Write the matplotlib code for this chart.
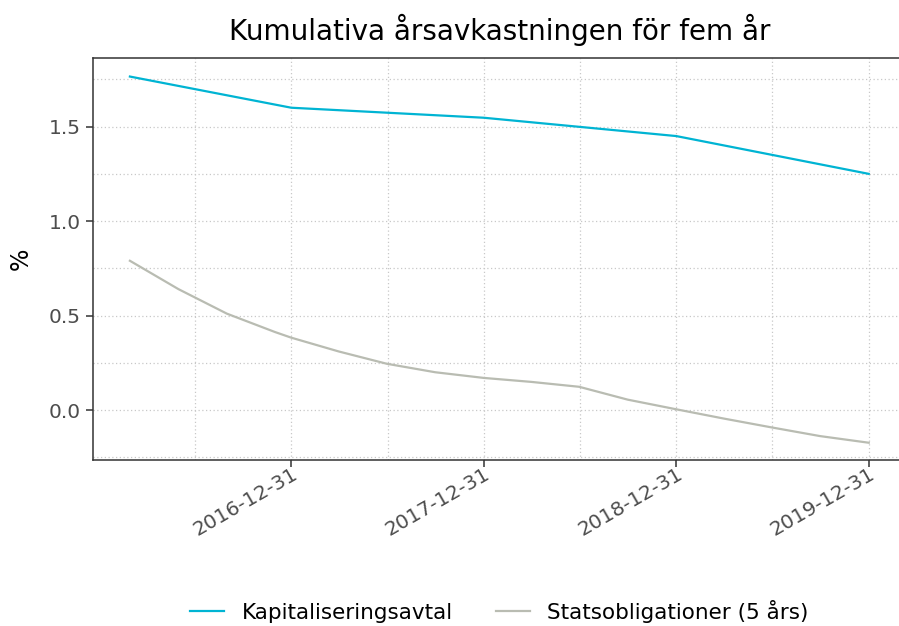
import pandas as pd
import matplotlib
matplotlib.use("Agg")
import matplotlib.pyplot as plt
import matplotlib.dates as mdates
from matplotlib.ticker import MultipleLocator

plt.rcParams['font.family'] = ['DejaVu Sans']

# Kapitaliseringsavtal (årsvis)
kap_datum = ["2016-02-29", "2016-12-31", "2017-12-31", "2018-12-31", "2019-12-31"]
kap_varde = [1.765, 1.60, 1.547, 1.45, 1.25]

# Statsobligationer (5 års), kvartalsvis avläst
stat_datum = ["2016-02-29", "2016-05-31", "2016-08-31", "2016-11-30", "2016-12-31",
              "2017-03-31", "2017-06-30", "2017-09-30", "2017-12-31",
              "2018-03-31", "2018-06-30", "2018-09-30", "2018-12-31",
              "2019-03-31", "2019-06-30", "2019-09-30", "2019-12-31"]
stat_varde = [0.79, 0.64, 0.51, 0.413, 0.383,
              0.31, 0.245, 0.20, 0.17,
              0.149, 0.123, 0.055, 0.004,
              -0.045, -0.092, -0.138, -0.173]

x_ticks = ["2016-12-31", "2017-12-31", "2018-12-31", "2019-12-31"]

farg_kap = "#00B4D3"
farg_stat = "#B9BCB2"
textfarg = "#4D4D4D"

fig = plt.figure(figsize=(8.99, 6.26), dpi=100)
ax = fig.add_axes([0.1034, 0.265, 0.904, 0.642])

kd = pd.to_datetime(kap_datum)
sd = pd.to_datetime(stat_datum)
ax.plot(kd, kap_varde, color=farg_kap, lw=1.6, label="Kapitaliseringsavtal")
ax.plot(sd, stat_varde, color=farg_stat, lw=1.6, label="Statsobligationer (5 års)")

# ggplot-liknande expansion 5 %
x0, x1 = mdates.date2num(kd[0]), mdates.date2num(kd[-1])
pad = (x1 - x0) * 0.05
ax.set_xlim(x0 - pad, x1 + pad)
ax.set_ylim(-0.265, 1.862)

tick_pos = mdates.date2num(pd.to_datetime(x_ticks))
ax.set_xticks(tick_pos)
ax.set_xticklabels(x_ticks, rotation=30, ha="right", rotation_mode="anchor")
minor = [(tick_pos[0] - (tick_pos[1] - tick_pos[0]) / 2)] + \
        [(a + b) / 2 for a, b in zip(tick_pos[:-1], tick_pos[1:])]
ax.set_xticks(minor, minor=True)
ax.yaxis.set_major_locator(MultipleLocator(0.5))
ax.yaxis.set_minor_locator(MultipleLocator(0.25))
ax.yaxis.set_major_formatter(plt.FuncFormatter(lambda v, p: f"{v:.1f}"))

ax.grid(which="both", color="#C8C8C8", linestyle=(0, (1, 2)), lw=0.9)
ax.set_axisbelow(True)
for side in ["left", "bottom", "top", "right"]:
    ax.spines[side].set_color("#333333")
    ax.spines[side].set_linewidth(1.1)
ax.tick_params(which="major", length=5, width=1.1, color="#333333",
               labelsize=14.5, labelcolor=textfarg, pad=4)
ax.tick_params(axis="x", which="major", pad=-2)
ax.tick_params(which="minor", length=0)

ax.set_ylabel("%", fontsize=17, color="black")
ax.yaxis.set_label_coords(-0.074, 0.5)
ax.set_title("Kumulativa årsavkastningen för fem år", fontsize=20, pad=13)

ax.legend(loc="center", bbox_to_anchor=(0.5, -0.376), ncol=2, frameon=False,
          fontsize=15.5, handlelength=1.6, handletextpad=0.8, columnspacing=2.0)

fig.savefig("out.png", dpi=100)
